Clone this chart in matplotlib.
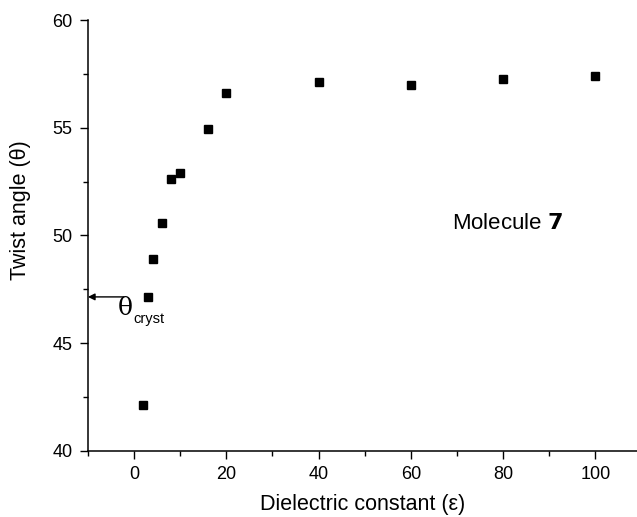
import matplotlib.pyplot as plt
from matplotlib.ticker import MultipleLocator

# Twist angle vs dielectric constant, molecule 7
epsilon = [2, 3, 4, 6, 8, 10, 16, 20, 40, 60, 80, 100]
twist = [42.15, 47.15, 48.9, 50.6, 52.62, 52.92, 54.92, 56.6, 57.1, 56.97, 57.25, 57.38]
theta_cryst = 47.15

plt.rcParams['font.family'] = ['Liberation Sans', 'DejaVu Sans']

fig = plt.figure(figsize=(6.37, 5.17), dpi=100)
ax = fig.add_axes([0.138, 0.1277, 0.862, 0.8336])

ax.plot(epsilon, twist, 's', color='black', markersize=6.3, linestyle='none')

ax.set_xlim(-10, 109)
ax.set_ylim(40, 60)
ax.xaxis.set_major_locator(MultipleLocator(20))
ax.xaxis.set_minor_locator(MultipleLocator(10))
ax.yaxis.set_major_locator(MultipleLocator(5))
ax.yaxis.set_minor_locator(MultipleLocator(2.5))
ax.tick_params(which='major', direction='out', length=6, width=1, labelsize=13, pad=5)
ax.tick_params(which='minor', direction='out', length=3.5, width=1)

for side in ['top', 'right']:
    ax.spines[side].set_visible(False)
for side in ['left', 'bottom']:
    ax.spines[side].set_linewidth(1.1)

ax.set_xlabel('Dielectric constant (\u03b5)', fontsize=15.5, labelpad=8)
ax.set_ylabel('Twist angle (\u03b8)', fontsize=15.5)
ax.yaxis.set_label_coords(-0.103, 0.56)

# crystal-structure angle marker
ax.annotate('', xy=(-10, theta_cryst), xytext=(-2.2, theta_cryst),
            arrowprops=dict(arrowstyle='-|>', color='black', lw=1.0,
                            mutation_scale=10, shrinkA=0, shrinkB=0),
            annotation_clip=False)
ax.text(-3.5, 46.3, '\u03b8', fontsize=18, family=['DejaVu Serif'], ha='left', va='baseline')
ax.text(-0.1, 45.93, 'cryst', fontsize=10.5, ha='left', va='baseline')

ax.text(81, 50.55, 'Molecule $\\mathbf{7}$', fontsize=16, ha='center', va='center')

fig.savefig('out.png', dpi=100)
